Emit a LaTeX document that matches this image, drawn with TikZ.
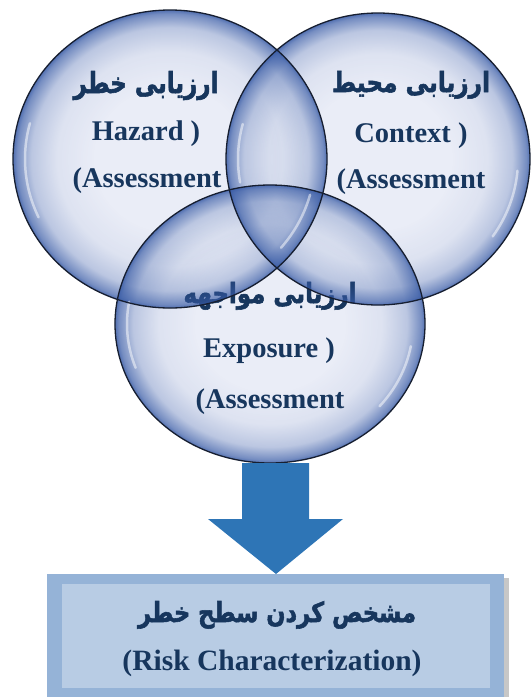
\documentclass[tikz,border=0pt]{standalone}
\usepackage{graphicx}
\usepackage{fontspec}
\setmainfont{Liberation Serif}
\newfontfamily\arabicfont[Script=Arabic, FakeBold=2]{DejaVu Sans Bold}
\TeXXeTstate=1
\usetikzlibrary{fadings,calc}
\definecolor{txt}{RGB}{23,54,93}
\definecolor{bubbase}{RGB}{234,237,247}
\definecolor{bubrim}{RGB}{55,90,165}
\definecolor{arrowblue}{RGB}{46,117,182}
\definecolor{boxout}{RGB}{149,179,215}
\definecolor{boxin}{RGB}{184,204,228}
\definecolor{ringline}{RGB}{22,30,48}
\pgfdeclareradialshading{rimshade}{\pgfpointorigin}{color(0bp)=(pgftransparent!100); color(12bp)=(pgftransparent!100); color(18bp)=(pgftransparent!93); color(22bp)=(pgftransparent!74); color(24.3bp)=(pgftransparent!35); color(25bp)=(pgftransparent!12); color(50bp)=(pgftransparent!12)}
\pgfdeclarefading{rimfade}{\pgfuseshading{rimshade}}
\newcommand\fatext[1]{{\arabicfont\beginR #1\endR}}
\tikzset{
  Lp/.style={insert path={(170,159) ellipse [x radius=157pt, y radius=149pt]}},
  Rp/.style={insert path={(378,159) ellipse [x radius=152pt, y radius=146pt]}},
  Bp/.style={insert path={(270,324) ellipse [x radius=155pt, y radius=139pt]}},
  base/.style={fill=bubbase},
  rim/.style={fill=bubrim, path fading=rimfade},
  ring/.style={draw=ringline, line width=1.3pt},
  glint/.style={draw=white, line width=2.5pt, line cap=round, opacity=0.5},
  en/.style={font=\fontsize{28.5}{30}\selectfont\bfseries, text=txt, inner sep=0pt, anchor=base},
  fa/.style={text=txt, inner sep=0pt, anchor=base},
}
\begin{document}
\begin{tikzpicture}[x=1pt,y=-1pt]
\useasboundingbox (0,0) rectangle (531,697);
% named circle centres
\coordinate (hazc) at (170,159);
\coordinate (conc) at (378,159);
\coordinate (expc) at (270,324);
% base fills
\fill[base, Lp];
\fill[base, Rp];
\fill[base, Bp];
% bottom bubble rim and its text (lies under the upper bubbles)
\fill[rim, Bp];
\node[fa] (expfa) at (270,303) {\resizebox{173pt}{21pt}{\fatext{ارزیابی مواجهه}}};
\node[en] (exp1) at (269,357) {Exposure )};
\node[en] (exp2) at (270,408) {(Assessment};
% upper bubble rims
\fill[rim, Lp];
\fill[rim, Rp];
% highlights
\draw[glint] (hazc) ++(165:145pt and 138pt) arc[start angle=165, end angle=205, x radius=145pt, y radius=138pt];
\draw[glint] (hazc) ++(-15:145pt and 138pt) arc[start angle=-15, end angle=-40, x radius=145pt, y radius=138pt];
\draw[glint] (conc) ++(165:140pt and 135pt) arc[start angle=165, end angle=190, x radius=140pt, y radius=135pt];
\draw[glint] (conc) ++(-5:140pt and 135pt) arc[start angle=-5, end angle=-35, x radius=140pt, y radius=135pt];
\draw[glint] (expc) ++(170:143pt and 128pt) arc[start angle=170, end angle=200, x radius=143pt, y radius=128pt];
\draw[glint] (expc) ++(-10:143pt and 128pt) arc[start angle=-10, end angle=-40, x radius=143pt, y radius=128pt];
% outlines
\draw[ring, Lp];
\draw[ring, Rp];
\draw[ring, Bp];
% upper texts
\node[fa] (hazfa) at (146,93) {\resizebox{145pt}{22pt}{\fatext{ارزیابی خطر}}};
\node[en] (haz1) at (146,140) {Hazard )};
\node[en] (haz2) at (147,187) {(Assessment};
\node[fa] (confa) at (411,92) {\resizebox{158pt}{21pt}{\fatext{ارزیابی محیط}}};
\node[en] (con1) at (411,142) {Context )};
\node[en] (con2) at (411,188) {(Assessment};
% result box
\fill[black, opacity=0.22] (52,578) rectangle (509,697);
\node[fill=boxout, minimum width=457pt, minimum height=124pt, inner sep=0pt, anchor=north west] (box) at (47,574) {};
\fill[boxin] (62,584) rectangle (490,688);
\node[fa] (boxfa) at (277,622) {\resizebox{278pt}{21pt}{\fatext{مشخص کردن سطح خطر}}};
\node[en, font=\fontsize{29.5}{31}\selectfont\bfseries] (box1) at (272,670) {(Risk Characterization)};
% arrow from bubble to box
\coordinate (atop) at (276,463);
\coordinate (atip) at (276,574);
\fill[arrowblue] ($(atop)+(-34,0)$) -- ($(atop)+(33,0)$) -- ($(atop)+(33,56)$) -- ($(atop)+(67,56)$) -- (atip) -- ($(atop)+(-68,56)$) -- ($(atop)+(-34,56)$) -- cycle;
\end{tikzpicture}
\end{document}
